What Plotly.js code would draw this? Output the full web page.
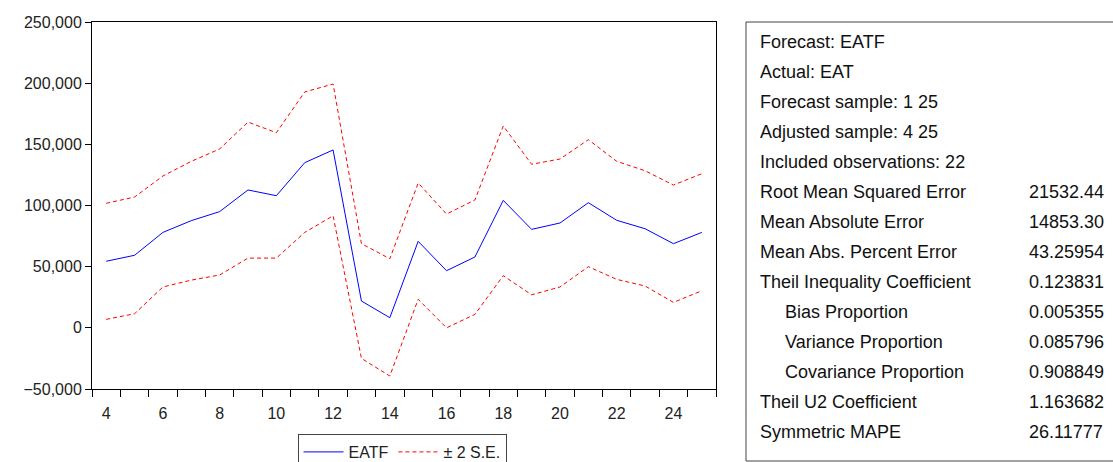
<!DOCTYPE html>
<html>
<head>
<meta charset="utf-8">
<script src="https://cdn.plot.ly/plotly-3.0.1.min.js"></script>
<style>body{margin:0;background:#fff}#chart{width:1113px;height:462px}</style>
</head>
<body>
<div id="chart"></div>
<script>
const periods = [4,5,6,7,8,9,10,11,12,13,14,15,16,17,18,19,20,21,22,23,24,25];
const eatf = [54400,59300,78000,87600,95000,112700,108000,135000,145400,21900,8300,70700,46700,57900,104200,80500,85700,102300,87900,81000,68800,78000];
const upper = [101800,106900,124100,136100,146200,168200,159500,192800,199300,68800,56500,118400,93000,104500,165000,133700,138000,153800,136100,128400,116700,126000];
const lower = [6900,11500,33400,39000,43200,57000,57000,78000,91600,-25000,-39400,23300,0,11000,42600,27000,33400,50000,39600,34200,20800,30300];
const statLabels = ['Forecast: EATF','Actual: EAT','Forecast sample: 1 25','Adjusted sample: 4 25','Included observations: 22',
  'Root Mean Squared Error','Mean Absolute Error','Mean Abs. Percent Error','Theil Inequality Coefficient',
  '   Bias Proportion','   Variance Proportion','   Covariance Proportion','Theil U2 Coefficient','Symmetric MAPE'];
const statValues = ['','','','','','21532.44','14853.30','43.25954','0.123831','0.005355','0.085796','0.908849','1.163682','26.11777'];

// plot area in pixels
const L = 92, R = 716, T = 22, B = 389;
const px = x => (x - L) / (R - L);
const py = y => (B - y) / (B - T);
const font = { family: 'Liberation Sans, Arial, sans-serif', size: 16, color: '#222' };
const statFont = { family: 'Liberation Sans, Arial, sans-serif', size: 18, color: '#111' };

const traces = [
  { x: periods, y: eatf, type: 'scatter', mode: 'lines', name: 'EATF', line: { color: '#0000ff', width: 1 } },
  { x: periods, y: upper, type: 'scatter', mode: 'lines', name: '± 2 S.E.', line: { color: '#ff0000', width: 1, dash: '4px,3px' } },
  { x: periods, y: lower, type: 'scatter', mode: 'lines', name: 'lower', showlegend: false, line: { color: '#ff0000', width: 1, dash: '4px,3px' } },
  { x: [3.5], y: [null], xaxis: 'x2', showlegend: false, hoverinfo: 'skip' }
];

const annotations = [];
statLabels.forEach((s, i) => {
  const y = 42 + i * 30;
  annotations.push({ text: s.replace(/^   /, '&nbsp;&nbsp;&nbsp;&nbsp;&nbsp;'), xref: 'paper', yref: 'paper', x: px(758), y: py(y),
    xanchor: 'left', yanchor: 'middle', showarrow: false, font: statFont });
  if (statValues[i]) annotations.push({ text: statValues[i], xref: 'paper', yref: 'paper', x: px(1027), y: py(y),
    xanchor: 'left', yanchor: 'middle', showarrow: false, font: statFont });
});

const layout = {
  width: 1113, height: 462,
  margin: { l: L, r: 1113 - R, t: T, b: 462 - B, autoexpand: false },
  paper_bgcolor: '#fff', plot_bgcolor: '#fff',
  font: font,
  xaxis: { range: [3.5, 25.5], tickvals: [4,6,8,10,12,14,16,18,20,22,24], ticks: '', showgrid: false, zeroline: false,
           showline: true, linecolor: '#000', mirror: true, tickfont: font, ticklabelstandoff: 10 },
  xaxis2: { overlaying: 'x', side: 'bottom', range: [3.5, 25.5], tickvals: periods.map(p => p - 0.5).concat([25.5]), ticktext: periods.map(() => '').concat(['']),
            ticks: 'outside', ticklen: 7, tickcolor: '#000', showgrid: false, zeroline: false, showline: false },
  yaxis: { range: [-50000, 250000], tickvals: [-50000,0,50000,100000,150000,200000,250000], tickformat: ',d',
           ticks: 'outside', ticklen: 6, tickcolor: '#000', showgrid: false, zeroline: false, showline: true, linecolor: '#000', mirror: true, tickfont: font },
  showlegend: true,
  legend: { orientation: 'h', x: px(402), xanchor: 'center', y: py(434), yanchor: 'top', bordercolor: '#444', borderwidth: 1,
            font: font, bgcolor: '#fff', itemwidth: 40 },
  shapes: [{ type: 'rect', xref: 'paper', yref: 'paper', x0: px(746), x1: px(1130), y0: py(22), y1: py(461), line: { color: '#444', width: 1 } }],
  annotations: annotations
};

Plotly.newPlot('chart', traces, layout, { displayModeBar: false, staticPlot: true });
</script>
</body>
</html>
